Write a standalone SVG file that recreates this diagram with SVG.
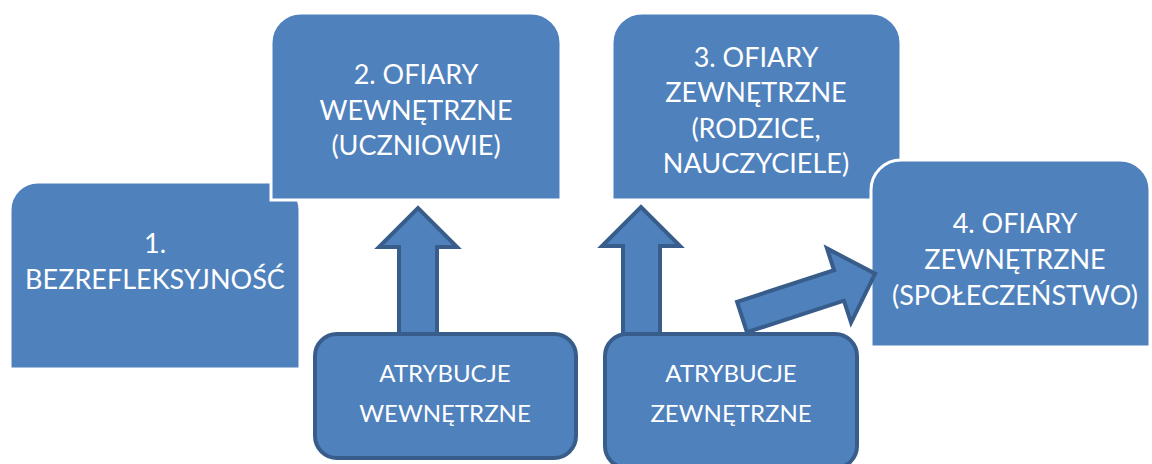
<svg xmlns="http://www.w3.org/2000/svg" width="1152" height="464" viewBox="0 0 1152 464">
  <style>
    .top { fill: #4f81bd; stroke: #ffffff; stroke-width: 3; }
    .src { fill: #4f81bd; stroke: #385d8a; stroke-width: 4; }
    .arrow { fill: #4f81bd; stroke: #385d8a; stroke-width: 4; stroke-linejoin: miter; }
    .lbl { font-family: "Lato", "Open Sans", sans-serif; fill: #ffffff; text-anchor: middle; }
    .big { font-size: 27px; }
    .small { font-size: 24px; }
  </style>
  <rect width="1152" height="464" fill="#ffffff"/>

  <!-- stages: rectangles with rounded top corners -->
  <g id="stage1">
    <path class="top" d="M10,210 A28,28 0 0 1 38,182 H272 A28,28 0 0 1 300,210 V369 H10 Z"/>
    <text class="lbl big" x="155" y="253">1.</text>
    <text class="lbl big" x="155" y="289">BEZREFLEKSYJNOŚĆ</text>
  </g>
  <g id="stage2">
    <path class="top" d="M271,43 A30,30 0 0 1 301,13 H531 A30,30 0 0 1 561,43 V200 H271 Z"/>
    <text class="lbl big" x="416" y="84">2. OFIARY</text>
    <text class="lbl big" x="416" y="120">WEWNĘTRZNE</text>
    <text class="lbl big" x="416" y="155">(UCZNIOWIE)</text>
  </g>
  <g id="stage3">
    <path class="top" d="M612,43 A30,30 0 0 1 642,13 H871 A30,30 0 0 1 901,43 V200 H612 Z"/>
    <text class="lbl big" x="756" y="67">3. OFIARY</text>
    <text class="lbl big" x="756" y="102">ZEWNĘTRZNE</text>
    <text class="lbl big" x="756" y="138">(RODZICE,</text>
    <text class="lbl big" x="756" y="173">NAUCZYCIELE)</text>
  </g>
  <g id="stage4">
    <path class="top" d="M871,190 A30,30 0 0 1 901,160 H1120 A30,30 0 0 1 1150,190 V347 H871 Z"/>
    <text class="lbl big" x="1015" y="233">4. OFIARY</text>
    <text class="lbl big" x="1015" y="269">ZEWNĘTRZNE</text>
    <text class="lbl big" x="1015" y="305">(SPOŁECZEŃSTWO)</text>
  </g>

  <!-- block arrows -->
  <g id="connectors">
    <path class="arrow" d="M399,334 V247 H379 L418,208 L457,247 H437 V334 Z"/>
    <path class="arrow" d="M623,334 V246 H602 L641,207 L680,246 H660 V334 Z"/>
    <path class="arrow" transform="translate(742,317) rotate(-18)" d="M0,-16 H102 V-39 L140,0 L102,39 V16 H0 Z"/>
  </g>

  <!-- attribution boxes -->
  <g id="attr-internal">
    <rect class="src" x="315" y="334" width="261" height="124" rx="22"/>
    <text class="lbl small" x="445" y="382">ATRYBUCJE</text>
    <text class="lbl small" x="445" y="422">WEWNĘTRZNE</text>
  </g>
  <g id="attr-external">
    <rect class="src" x="605" y="334" width="252" height="134" rx="22"/>
    <text class="lbl small" x="731" y="382">ATRYBUCJE</text>
    <text class="lbl small" x="731" y="422">ZEWNĘTRZNE</text>
  </g>
</svg>
